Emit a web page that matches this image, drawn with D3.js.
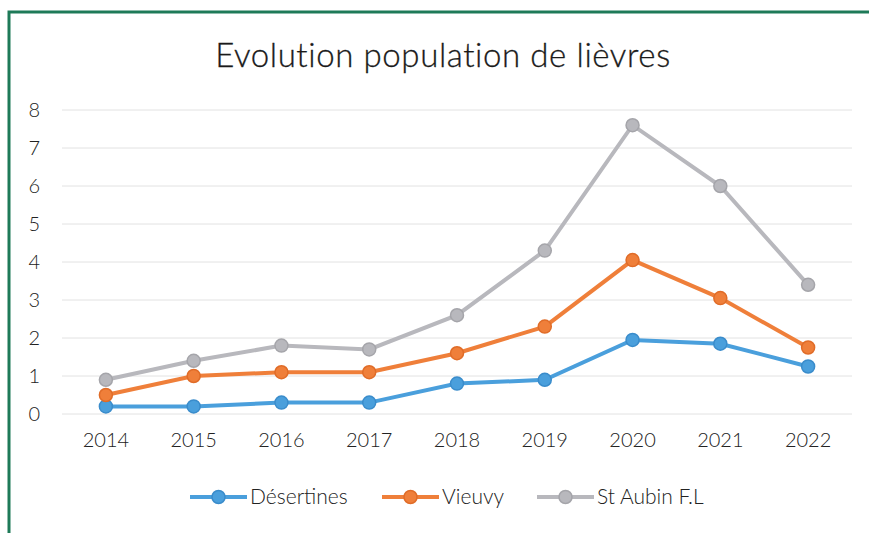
<!DOCTYPE html>
<html>
<head>
<meta charset="utf-8">
<script src="https://cdn.jsdelivr.net/npm/d3@7"></script>
<style>
  body { margin: 0; background: #fff; }
  svg { display: block; font-family: Lato, "Open Sans", sans-serif; }
</style>
</head>
<body>
<div id="chart"></div>
<script>
const years = ['2014', '2015', '2016', '2017', '2018', '2019', '2020', '2021', '2022'];
const desertines = [0.2, 0.2, 0.3, 0.3, 0.8, 0.9, 1.95, 1.85, 1.25];
const vieuvy = [0.5, 1.0, 1.1, 1.1, 1.6, 2.3, 4.05, 3.05, 1.75];
const staubin = [0.9, 1.4, 1.8, 1.7, 2.6, 4.3, 7.6, 6.0, 3.4];
const yTicks = [0, 1, 2, 3, 4, 5, 6, 7, 8];

const series = [
    { name: 'Désertines', values: desertines, color: '#4a9fdc', dark: '#3a8ccb' },
    { name: 'Vieuvy', values: vieuvy, color: '#ef7f3a', dark: '#e06c28' },
    { name: 'St Aubin F.L', values: staubin, color: '#b8b8bd', dark: '#a5a5aa' }
];

const width = 869, height = 533;
const svg = d3.select('#chart').append('svg')
    .attr('width', width)
    .attr('height', height);

// green frame (top and left edges visible in the photo)
svg.append('path')
    .attr('d', 'M9,533 L9,12 L869,12')
    .attr('fill', 'none')
    .attr('stroke', '#1e7a58')
    .attr('stroke-width', 3);

svg.append('text')
    .attr('x', 443)
    .attr('y', 67)
    .attr('text-anchor', 'middle')
    .attr('font-size', 33)
    .attr('font-weight', 300)
    .attr('letter-spacing', 0.6)
    .attr('fill', '#1a1a1a')
    .attr('stroke', '#1a1a1a')
    .attr('stroke-width', 0.3)
    .text('Evolution population de lièvres');

const x = d3.scaleBand().domain(years).range([62, 852]);
const y = d3.scaleLinear().domain([0, 8]).range([414, 110]);

// gridlines
svg.append('g')
    .selectAll('line')
    .data(yTicks)
    .enter().append('line')
    .attr('x1', 62)
    .attr('x2', 852)
    .attr('y1', d => y(d))
    .attr('y2', d => y(d))
    .attr('stroke', '#e2e2e2')
    .attr('stroke-width', 1);

const yAxis = svg.append('g')
    .attr('transform', 'translate(40,0)')
    .call(d3.axisLeft(y).tickValues(yTicks).tickSize(0).tickPadding(0));
yAxis.select('.domain').remove();
yAxis.selectAll('text')
    .attr('font-size', 20)
    .attr('font-family', 'Lato, sans-serif')
    .attr('font-weight', 300)
    .attr('fill', '#222');

const xAxis = svg.append('g')
    .attr('transform', 'translate(0,428)')
    .call(d3.axisBottom(x).tickSize(0).tickPadding(5));
xAxis.select('.domain').remove();
xAxis.selectAll('text')
    .attr('font-size', 20)
    .attr('font-family', 'Lato, sans-serif')
    .attr('font-weight', 300)
    .attr('fill', '#222');

const cx = d => x(d) + x.bandwidth() / 2;
const line = d3.line()
    .x((d, i) => cx(years[i]))
    .y(d => y(d));

series.forEach(s => {
    svg.append('path')
        .datum(s.values)
        .attr('fill', 'none')
        .attr('stroke', s.color)
        .attr('stroke-width', 4)
        .attr('d', line);

    svg.selectAll('.dot-' + s.name.replace(/\W/g, ''))
        .data(s.values)
        .enter().append('circle')
        .attr('cx', (d, i) => cx(years[i]))
        .attr('cy', d => y(d))
        .attr('r', 6.5)
        .attr('fill', s.color)
        .attr('stroke', s.dark)
        .attr('stroke-width', 1.5);
});

// legend
const legendX = [190, 382, 537];
const legend = svg.append('g').attr('transform', 'translate(0,497)');
series.forEach((s, i) => {
    const g = legend.append('g').attr('transform', `translate(${legendX[i]},0)`);
    g.append('line')
        .attr('x1', 0).attr('x2', 57)
        .attr('stroke', s.color)
        .attr('stroke-width', 4);
    g.append('circle')
        .attr('cx', 28.5)
        .attr('r', 6.5)
        .attr('fill', s.color)
        .attr('stroke', s.dark)
        .attr('stroke-width', 1.5);
    g.append('text')
        .attr('x', 60)
        .attr('dy', '0.35em')
        .attr('font-size', 21)
        .attr('font-weight', 300)
        .attr('fill', '#222')
        .text(s.name);
});
</script>
</body>
</html>
